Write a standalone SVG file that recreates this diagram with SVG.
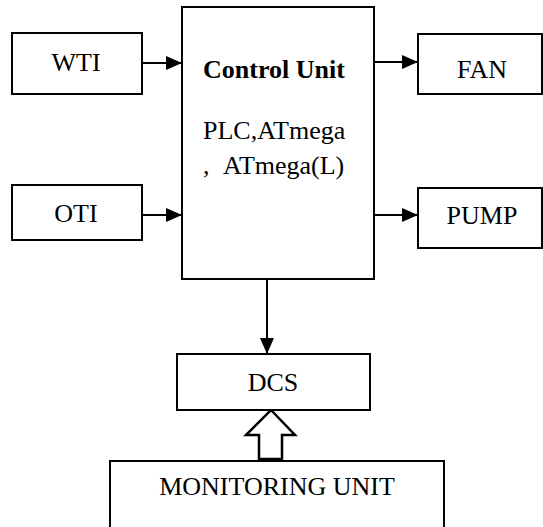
<svg xmlns="http://www.w3.org/2000/svg" width="543" height="527" viewBox="0 0 543 527">
<style>
.box{fill:#fff;stroke:#000;stroke-width:2}
.t{font-family:"Liberation Serif","Times New Roman",serif;font-size:26px;fill:#000}
.m{text-anchor:middle}
.b{font-weight:bold}
.ln{stroke:#000;stroke-width:2;fill:none}
</style>
<defs>
<marker id="ah" viewBox="0 0 16 14" refX="16" refY="7" markerWidth="16" markerHeight="14" markerUnits="userSpaceOnUse" orient="auto">
<path d="M0,0 L16,7 L0,14 Z" fill="#000"/>
</marker>
</defs>
<rect width="543" height="527" fill="#fff"/>
<g id="connectors">
<line class="ln" x1="142" y1="63" x2="182" y2="63" marker-end="url(#ah)"/>
<line class="ln" x1="142" y1="215" x2="182" y2="215" marker-end="url(#ah)"/>
<line class="ln" x1="374" y1="62" x2="418" y2="62" marker-end="url(#ah)"/>
<line class="ln" x1="374" y1="215" x2="418" y2="215" marker-end="url(#ah)"/>
<line class="ln" x1="267" y1="279" x2="267" y2="354" marker-end="url(#ah)"/>
<path d="M271,410 L295,435 L282,435 L282,459 L259,459 L259,435 L246,435 Z" fill="#fff" stroke="#000" stroke-width="2.5" stroke-linejoin="miter"/>
</g>
<g id="wti">
<rect class="box" x="12" y="33" width="130" height="61"/>
<text class="t m" x="76" y="71">WTI</text>
</g>
<g id="oti">
<rect class="box" x="12" y="185" width="130" height="55"/>
<text class="t m" x="76" y="222">OTI</text>
</g>
<g id="control">
<rect class="box" x="182" y="7" width="192" height="272"/>
<text class="t b" x="203" y="78">Control Unit</text>
<text class="t" x="203" y="139">PLC,ATmega</text>
<text class="t" x="203" y="174">,</text>
<text class="t" x="223" y="174">ATmega(L)</text>
</g>
<g id="fan">
<rect class="box" x="418" y="34" width="124" height="60"/>
<text class="t m" x="482" y="78">FAN</text>
</g>
<g id="pump">
<rect class="box" x="418" y="188" width="124" height="60"/>
<text class="t m" x="482" y="224">PUMP</text>
</g>
<g id="dcs">
<rect class="box" x="177" y="354" width="193" height="56"/>
<text class="t m" x="273" y="391">DCS</text>
</g>
<g id="monitoring">
<rect class="box" x="110" y="461" width="334" height="80" stroke-width="2.5"/>
<text class="t m" x="277" y="495">MONITORING UNIT</text>
</g>
</svg>
